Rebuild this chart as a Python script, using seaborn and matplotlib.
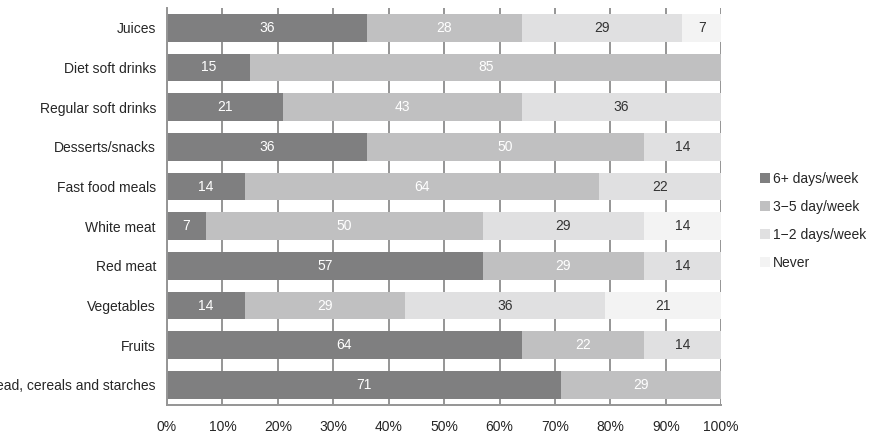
import numpy as np
import pandas as pd
import matplotlib
matplotlib.use("Agg")
import matplotlib.pyplot as plt
import seaborn as sns
from matplotlib.patches import Patch

# data (percent of respondents)
foods = ["Juices", "Diet soft drinks", "Regular soft drinks", "Desserts/snacks",
         "Fast food meals", "White meat", "Red meat", "Vegetables", "Fruits",
         "Bread, cereals and starches"]
freq_labels = ["6+ days/week", "3\u22125 day/week", "1\u22122 days/week", "Never"]
six_plus = [36, 15, 21, 36, 14, 7, 57, 14, 64, 71]
three_five = [28, 85, 43, 50, 64, 50, 29, 29, 22, 29]
one_two = [29, 0, 36, 14, 22, 29, 14, 36, 14, 0]
never = [7, 0, 0, 0, 0, 14, 0, 21, 0, 0]

colors = ["#7f7f80", "#c0c0c1", "#e0e0e1", "#f3f3f3"]
text_colors = ["white", "white", "#333333", "#333333"]

sns.set_style("white")
plt.rcParams["font.family"] = ["Liberation Sans", "DejaVu Sans"]

df = pd.DataFrame({"food": foods, "s1": six_plus, "s2": three_five,
                   "s3": one_two, "s4": never})
series = ["s1", "s2", "s3", "s4"]
cum = df[series].cumsum(axis=1)

fig = plt.figure(figsize=(8.7, 4.4), dpi=100)
ax = fig.add_axes([0.192, 0.080, 0.637, 0.902])

ax.set_axisbelow(True)
ax.grid(axis="x", color="#959595", linewidth=1.4)

# draw cumulative bars from the back (largest total) to the front
for k in range(3, -1, -1):
    sns.barplot(x=cum[series[k]], y=df["food"], orient="h", color=colors[k],
                width=0.7, ax=ax, saturation=1, zorder=2, linewidth=0)

# segment labels
for i in range(len(foods)):
    start = 0
    for k, s in enumerate(series):
        v = df.loc[i, s]
        if v > 0:
            ax.text(start + v / 2, i, str(v), ha="center", va="center",
                    color=text_colors[k], fontsize=10, zorder=3)
        start += v

ax.set_xlim(0, 100)
ax.set_ylim(9.5, -0.5)
ax.set_xticks(np.arange(0, 101, 10))
ax.set_xticklabels([f"{t}%" for t in range(0, 101, 10)], fontsize=10)
ax.set_xlabel("")
ax.set_ylabel("")
ax.tick_params(axis="y", length=0, labelsize=10, pad=8)
ax.set_yticks(np.arange(-0.5, 10, 1), minor=True)
ax.tick_params(axis="y", which="minor", length=4, color="#959595", width=1.4)
ax.tick_params(axis="x", length=5, color="#959595", width=1.4, pad=6)
for side in ["top", "right"]:
    ax.spines[side].set_visible(False)
for side in ["left", "bottom"]:
    ax.spines[side].set_color("#959595")
    ax.spines[side].set_linewidth(1.4)

handles = [Patch(facecolor=c, edgecolor="none") for c in colors]
fig.legend(handles, freq_labels, loc="center left", bbox_to_anchor=(0.874, 0.498),
           frameon=False, fontsize=10, handlelength=0.7, handleheight=0.7,
           handletextpad=0.2, labelspacing=1.0, borderpad=0, borderaxespad=0)

fig.savefig("out.png", dpi=100)
